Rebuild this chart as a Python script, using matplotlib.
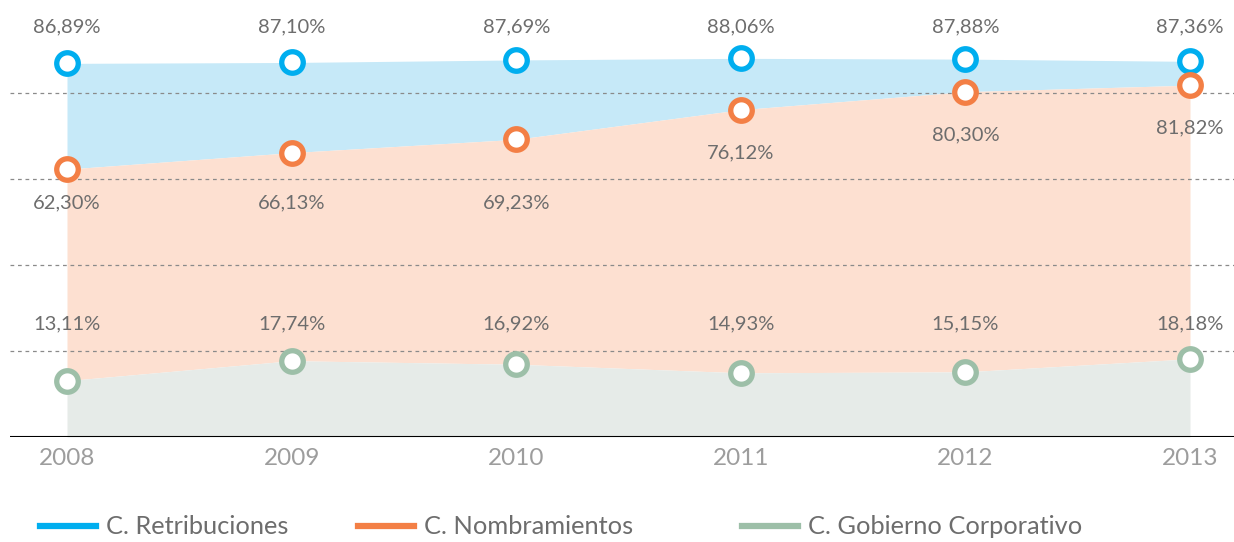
# Comisiones del Consejo: porcentaje por año (gráfico de áreas con marcadores)
import matplotlib
matplotlib.use("Agg")
import matplotlib.pyplot as plt
from matplotlib.lines import Line2D

# Datos
anios = [2008, 2009, 2010, 2011, 2012, 2013]
retribuciones = [86.89, 87.10, 87.69, 88.06, 87.88, 87.36]
nombramientos = [62.30, 66.13, 69.23, 76.12, 80.30, 81.82]
gobierno = [13.11, 17.74, 16.92, 14.93, 15.15, 18.18]
etiquetas_anio = ["2008", "2009", "2010", "2011", "2012", "2013"]
nombres = ["C. Retribuciones", "C. Nombramientos", "C. Gobierno Corporativo"]

# Farben
azul, azul_claro = "#00aeef", "#c6e9f8"
naranja, naranja_claro = "#f37f45", "#fde0d1"
verde, verde_claro = "#9dbfa8", "#e6ebe8"
gris_texto = "#6d6d6d"

plt.rcParams["font.family"] = ["Lato", "DejaVu Sans"]

fig = plt.figure(figsize=(12.34, 5.42), dpi=100)
ax = fig.add_axes([10 / 1234, 105 / 542, 1224 / 1234, 437 / 542])
ax.set_xlim(2008 - 57 / 224.6, 2013 + 44 / 224.6)
ax.set_ylim(0, 437 / 4.3)

# Flächen
ax.fill_between(anios, nombramientos, retribuciones, color=azul_claro, lw=0, zorder=1)
ax.fill_between(anios, gobierno, nombramientos, color=naranja_claro, lw=0, zorder=1)
ax.fill_between(anios, 0, gobierno, color=verde_claro, lw=0, zorder=1)

# Gitterlinien
for g in [20, 40, 60, 80]:
    ax.axhline(g, color="#8a8a8a", lw=0.9, ls=(0, (3, 3)), zorder=2)
ax.axhline(0, color="black", lw=1.5, zorder=3)

# Marker
for serie, col in [(retribuciones, azul), (nombramientos, naranja), (gobierno, verde)]:
    ax.plot(anios, serie, ls="none", marker="o", ms=15.5, mew=3.8,
            mfc="white", mec=col, zorder=5)

def fmt(v):
    return f"{v:.2f}".replace(".", ",") + "%"

# Beschriftungen
for i, a in enumerate(anios):
    ax.text(a, 95.3, fmt(retribuciones[i]), ha="center", va="center",
            fontsize=14.5, color=gris_texto)
    ax.text(a, 26.2, fmt(gobierno[i]), ha="center", va="center",
            fontsize=14.5, color=gris_texto)
for i, a in enumerate(anios):
    y_txt = 54.5 if i < 3 else nombramientos[i] - 10
    ax.text(a, y_txt, fmt(nombramientos[i]), ha="center", va="center",
            fontsize=14.5, color=gris_texto)

# Achsen
for s in ax.spines.values():
    s.set_visible(False)
ax.set_yticks([])
ax.set_xticks(anios)
ax.set_xticklabels(etiquetas_anio, fontsize=17.5, color="#9d9d9d")
ax.tick_params(axis="x", length=0, pad=8)

# Legende: drei Einträge, einzeln platziert
for nombre, col, x0 in zip(nombres, [azul, naranja, verde], [40, 358, 742]):
    fig.legend([Line2D([], [], color=col, lw=4.5)], [nombre],
               loc="center left", bbox_to_anchor=(x0 / 1234, 15 / 542),
               frameon=False, fontsize=18.3, handlelength=2.2,
               handletextpad=0.4, borderpad=0, borderaxespad=0,
               labelcolor=gris_texto)

fig.savefig("out.png", dpi=100)
